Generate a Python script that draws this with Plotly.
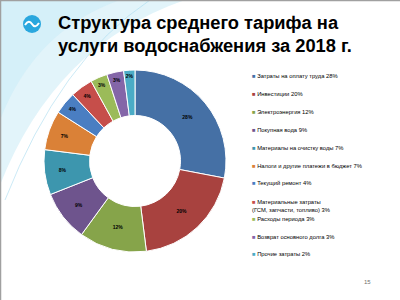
import plotly.graph_objects as go

labels = [
    "Затраты на оплату труда 28%",
    "Инвестиции 20%",
    "Электроэнергия 12%",
    "Покупная вода 9%",
    "Материалы на очистку воды 7%",
    "Налоги и другие платежи в бюджет 7%",
    "Текущий ремонт 4%",
    "Материальные затраты<br>(ГСМ, запчасти, топливо) 3%",
    "Расходы периода 3%",
    "Возврат основного долга 3%",
    "Прочие затраты 2%",
]
values = [28, 20, 12, 9, 8, 7, 4, 4, 3, 3, 2]
colors = ["#4570A5", "#A8423F", "#86A44A", "#6E548D", "#3D96AE", "#DA8137",
          "#4A7EC2", "#C64E4A", "#9BBB59", "#8466A8", "#4BACC6"]
title_lines = ["Структура среднего тарифа на", "услуги водоснабжения за 2018 г."]
page_number = "15"

W, H = 400, 300
def px(x):
    return x / W
def py(y):
    return 1 - y / H

fig = go.Figure()
fig.add_trace(go.Pie(
    labels=labels, values=values, sort=False, direction="clockwise", rotation=0,
    hole=0.5, marker=dict(colors=colors, line=dict(color="white", width=1)),
    texttemplate="<b>%{value}%</b>", textposition="inside", insidetextorientation="horizontal",
    textfont=dict(size=5, color="black", family="Liberation Sans"),
    domain=dict(x=[px(44), px(226)], y=[py(252), py(70)]),
    showlegend=False, hoverinfo="label+value",
))

shapes = []
# background swoosh decoration
shapes.append(dict(type="path", xref="paper", yref="paper", layer="below",
    path=f"M {px(0)},{py(0)} L {px(185)},{py(0)} Q {px(55)},{py(45)} {px(0)},{py(185)} Z",
    fillcolor="rgba(190,230,245,0.45)", line=dict(width=0)))
shapes.append(dict(type="path", xref="paper", yref="paper", layer="below",
    path=f"M {px(0)},{py(0)} L {px(120)},{py(0)} Q {px(35)},{py(30)} {px(0)},{py(120)} Z",
    fillcolor="rgba(200,235,248,0.5)", line=dict(width=0)))
shapes.append(dict(type="path", xref="paper", yref="paper", layer="below",
    path=f"M {px(150)},{py(0)} Q {px(60)},{py(60)} {px(5)},{py(200)}",
    line=dict(color="rgba(170,220,240,0.6)", width=1)))
# slide border
shapes.append(dict(type="line", xref="paper", yref="paper", x0=0, x1=1, y0=py(0.5), y1=py(0.5),
                   line=dict(color="#A0A0A0", width=1.5)))
shapes.append(dict(type="line", xref="paper", yref="paper", x0=px(0.5), x1=px(0.5), y0=0, y1=1,
                   line=dict(color="#A0A0A0", width=1.5)))
# logo
shapes.append(dict(type="circle", xref="paper", yref="paper",
    x0=px(23), x1=px(41), y0=py(33), y1=py(15), fillcolor="#2AA7DE", line=dict(width=0)))
shapes.append(dict(type="path", xref="paper", yref="paper",
    path=f"M {px(25)},{py(25)} Q {px(29)},{py(19)} {px(32)},{py(24)} Q {px(35)},{py(29)} {px(39)},{py(23)}",
    line=dict(color="white", width=2)))

annotations = []
for i, t in enumerate(title_lines):
    annotations.append(dict(text=f"<b>{t}</b>", x=px(56), y=py(22 + i * 23), xref="paper", yref="paper",
        xanchor="left", yanchor="middle", showarrow=False,
        font=dict(size=18.3, color="black", family="Liberation Sans")))

# legend
leg_y = [76, 94, 112, 130, 148, 166, 183, 201, 219, 237, 254]
for lab, col, y in zip(labels, colors, leg_y):
    annotations.append(dict(
        text=f"<span style='color:{col}'>■</span> {lab}", x=px(250), y=py(y),
        xref="paper", yref="paper", xanchor="left", yanchor="top" if "<br>" in lab else "middle",
        yshift=4 if "<br>" in lab else 0, align="left", showarrow=False,
        font=dict(size=5.8, color="black", family="Liberation Sans")))

annotations.append(dict(text=page_number, x=px(373), y=py(287), xref="paper", yref="paper",
    showarrow=False, font=dict(size=6, color="#707070", family="Liberation Sans")))

fig.update_layout(width=W, height=H, margin=dict(l=0, r=0, t=0, b=0),
    paper_bgcolor="white", plot_bgcolor="white", shapes=shapes, annotations=annotations,
    showlegend=False)
fig.write_html("out.html", config={"displayModeBar": False})
